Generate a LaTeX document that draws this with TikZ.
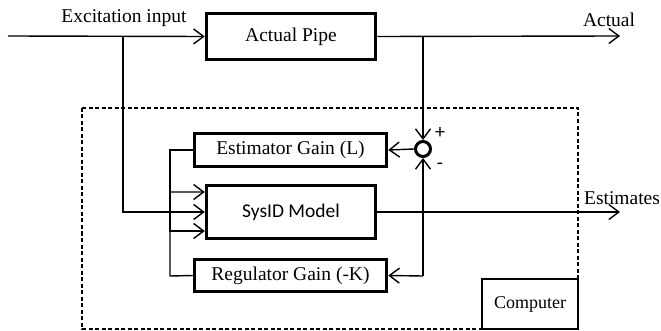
\documentclass[tikz,border=0pt]{standalone}
\usepackage{fontspec}
\setmainfont{Liberation Serif}
\newfontfamily\calib{Carlito}
\usetikzlibrary{arrows.meta}
\begin{document}
\begin{tikzpicture}[x=1pt,y=-1pt,
  blk/.style={draw, line width=3.5pt, inner sep=0pt, font=\fontsize{19.5}{22}\selectfont},
  conn/.style={line width=1.4pt},
  arr/.style={conn, -{Straight Barb[length=10pt,width=15pt,line width=1.4pt]}},
  lbl/.style={inner sep=0pt, font=\fontsize{19.5}{22}\selectfont}]
\useasboundingbox (0,0) rectangle (661,331);
% dashed computer boundary
\draw[line width=1.3pt, dash pattern=on 4pt off 2.5pt] (82,108) rectangle (578,329);
\node[draw, line width=1.3pt, fill=white, inner sep=0pt, minimum width=96pt, minimum height=50pt,
      font=\fontsize{18}{21}\selectfont] (comp) at (530,304) {Computer};
% blocks
\node[blk, minimum width=169pt, minimum height=46pt] (pipe) at (291,36.5) {Actual Pipe};
\node[blk, minimum width=192pt, minimum height=33pt] (est) at (290.5,150) {Estimator Gain (L)};
\node[blk, minimum width=169pt, minimum height=53pt, font=\calib\fontsize{19.5}{22}\selectfont] (sys) at (291,212) {SysID Model};
\node[blk, minimum width=192pt, minimum height=32pt] (reg) at (290.5,275.5) {Regulator Gain (-K)};
\node[draw, circle, line width=3pt, minimum size=15pt, inner sep=0pt] (sum) at (423,149) {};
\node[lbl, font=\calib\fontsize{20}{22}\selectfont] (plus) at (440,133) {+};
\node[lbl, font=\calib\fontsize{20}{22}\selectfont] (minus) at (440,166) {-};
% labels
\node[lbl] (exc) at (124,18) {Excitation input};
\node[lbl] (act) at (609,20) {Actual};
\node[lbl] (estl) at (622,198) {Estimates};
% coordinates
\coordinate (in) at (8,36);
\coordinate (b1) at (123,36);
\coordinate (b2) at (423,36);
\coordinate (out1) at (620,36);
\coordinate (out2) at (620,212);
\coordinate (j) at (423,276);
% connectors
\draw[arr] (in) -- (pipe.west);
\draw[arr] (pipe.east) -- (out1);
\draw[arr] (b2) -- (sum.north);
\draw[arr] (sum.west) -- (est.east);
\draw[arr] (j) -- (sum.south);
\draw[arr] (j) -- (reg.east);
\draw[arr] (sys.east) -- (out2);
\draw[arr] (b1) |- (sys.west);
\draw[arr] (est.west) -- (170,150) |- ([yshift=-19pt]sys.west);
\draw[arr] (reg.west) -- (170,276) |- ([yshift=20pt]sys.west);
\end{tikzpicture}
\end{document}
